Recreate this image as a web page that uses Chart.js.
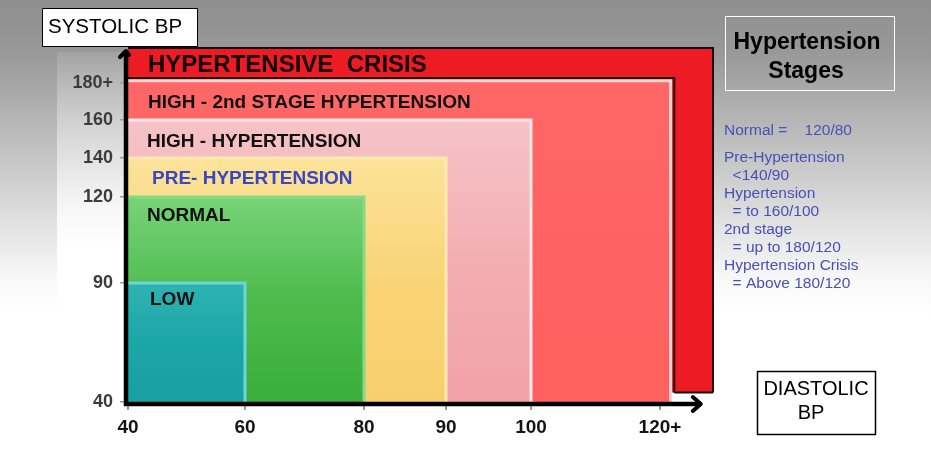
<!DOCTYPE html>
<html>
<head>
<meta charset="utf-8">
<script src="https://cdn.jsdelivr.net/npm/chart.js@4/dist/chart.umd.min.js"></script>
<style>
  html, body { margin: 0; padding: 0; background: #fff; }
  #wrap { width: 931px; height: 450px; position: relative; }
</style>
</head>
<body>
<div id="wrap"><canvas id="c" width="931" height="450"></canvas></div>
<script>
// ---------------- DATA ----------------
const xTickValues = [40, 60, 80, 90, 100, 120];
const xTickLabels = ['40', '60', '80', '90', '100', '120+'];
const yTickValues = [40, 90, 120, 140, 160, 180];
const yTickLabels = ['40', '90', '120', '140', '160', '180+'];

const zoneNames = ['LOW', 'NORMAL', 'PRE- HYPERTENSION', 'HIGH - HYPERTENSION',
                   'HIGH - 2nd STAGE HYPERTENSION', 'HYPERTENSIVE  CRISIS'];
const zoneSystolicTop = [90, 120, 140, 160, 181, 195];      // upper edge (systolic)
const zoneDiastolicRight = [60, 80, 90, 100, 122, 130];     // right edge (diastolic)
const crisisSystolicBottom = 44;
const crisisInnerDiastolic = 122.7;
const crisisInnerSystolic = 182.2;

const axisMin = 40;
const xArrowTip = 127.7;
const yArrowTip = 193.7;

const stageTitle = ['Hypertension', 'Stages'];
const stageNotes = ['Normal =    120/80', 'Pre-Hypertension', '  <140/90', 'Hypertension',
                    '  = to 160/100', '2nd stage', '  = up to 180/120', 'Hypertension Crisis',
                    '  = Above 180/120'];
const yAxisTitle = 'SYSTOLIC BP';
const xAxisTitle = ['DIASTOLIC', 'BP'];

// ---------------- STYLE ----------------
const FONT = '"Liberation Sans", Arial, sans-serif';
const zoneColors = [
  ['#2fb3b3', '#1ba6a7', '#18a0a2'],
  ['#78d378', '#4dbb4d', '#3aae3a'],
  ['#fbe39a', '#f9d477', '#f8cf6e'],
  ['#f6c3c7', '#f3aeb3', '#f1a1a7'],
  ['#ff6767', '#ff6262', '#ff6161'],
  ['#ed1c24', '#ed1c24', '#ed1c24']
];
const zoneBorders = ['#6fd6d6', '#86da86', '#fdeab0', '#fbe6e8', '#f4d3d3', '#111111'];
const zoneLabelColors = ['#111', '#111', '#3b46c2', '#111', '#111', '#140000'];
const zoneLabelFont = [19, 19, 19, 19, 19, 24];
const zoneLabelDx = [22, 19, 24, 19, 20, 20];
const zoneLabelDy = [17, 19, 21, 22, 22, 17];

// --------------- warped linear scale ---------------
class WarpScale extends Chart.LinearScale {
  static id = 'warp';
  static defaults = Chart.LinearScale.defaults;
  _frac(value) {
    const st = this.options.stops;
    if (value <= st[0][0]) return st[0][1] + (value - st[0][0]) * (st[1][1] - st[0][1]) / (st[1][0] - st[0][0]);
    for (let i = 1; i < st.length; i++) {
      if (value <= st[i][0] || i === st.length - 1) {
        const a = st[i - 1], b = st[i];
        return a[1] + (value - a[0]) * (b[1] - a[1]) / (b[0] - a[0]);
      }
    }
  }
  getPixelForValue(value) {
    const f = this._frac(value);
    return this.isHorizontal() ? this.left + f * this.width : this.bottom - f * this.height;
  }
  getValueForPixel(pixel) {
    const f = this.isHorizontal() ? (pixel - this.left) / this.width : (this.bottom - pixel) / this.height;
    const st = this.options.stops;
    for (let i = 1; i < st.length; i++) {
      if (f <= st[i][1] || i === st.length - 1) {
        const a = st[i - 1], b = st[i];
        return a[0] + (f - a[1]) * (b[0] - a[0]) / (b[1] - a[1]);
      }
    }
  }
}
Chart.register(WarpScale);
Chart.defaults.font.family = FONT;

function zoneGradient(chart, i) {
  const xs = chart.scales.x, ys = chart.scales.y;
  const cols = zoneColors[i];
  if (!xs || !ys || !chart.chartArea) return cols[1];
  const top = ys.getPixelForValue(zoneSystolicTop[i]);
  const bottom = ys.getPixelForValue(i === 5 ? crisisSystolicBottom : axisMin);
  const g = chart.ctx.createLinearGradient(0, top, 0, bottom);
  cols.forEach((c, k) => g.addColorStop(k / (cols.length - 1), c));
  return g;
}

const datasets = zoneNames.map((name, i) => ({
  label: name,
  data: [
    { x: axisMin, y: zoneSystolicTop[i] },
    { x: zoneDiastolicRight[i], y: zoneSystolicTop[i] },
    { x: zoneDiastolicRight[i], y: i === 5 ? crisisSystolicBottom : axisMin }
  ],
  fill: i === 5 ? { value: crisisSystolicBottom } : 'start',
  backgroundColor: (c) => zoneGradient(c.chart, i),
  borderColor: zoneBorders[i],
  borderWidth: i === 5 ? 2 : 3,
  pointRadius: 0,
  tension: 0,
  order: i,
  clip: false
}));
// crisis inner outline
datasets.push({
  label: 'crisis-outline',
  data: [
    { x: crisisInnerDiastolic, y: crisisSystolicBottom },
    { x: crisisInnerDiastolic, y: crisisInnerSystolic },
    { x: axisMin, y: crisisInnerSystolic }
  ],
  fill: false,
  borderColor: '#111',
  borderWidth: 2,
  pointRadius: 0,
  order: -1,
  clip: false
});
datasets.push({
  label: 'crisis-bottom',
  data: [
    { x: crisisInnerDiastolic, y: crisisSystolicBottom },
    { x: zoneDiastolicRight[5], y: crisisSystolicBottom }
  ],
  fill: false,
  borderColor: '#111',
  borderWidth: 2,
  pointRadius: 0,
  order: -1,
  clip: false
});

const bgPlugin = {
  id: 'bg',
  beforeDraw(chart) {
    const { ctx, width, height } = chart;
    ctx.save();
    const g = ctx.createLinearGradient(0, 0, 0, height);
    g.addColorStop(0, '#8f8f8f');
    g.addColorStop(0.12, '#999999');
    g.addColorStop(0.3, '#bcbcbc');
    g.addColorStop(0.48, '#dedede');
    g.addColorStop(0.62, '#f8f8f8');
    g.addColorStop(0.7, '#ffffff');
    g.addColorStop(1, '#ffffff');
    ctx.fillStyle = g;
    ctx.fillRect(0, 0, width, height);
    const g2 = ctx.createLinearGradient(0, 52, 0, 250);
    g2.addColorStop(0, 'rgba(255,255,255,0.1)');
    g2.addColorStop(0.6, 'rgba(255,255,255,0.55)');
    g2.addColorStop(1, 'rgba(255,255,255,1)');
    ctx.fillStyle = g2;
    ctx.fillRect(57, 52, 68, 398);
    ctx.restore();
  }
};

const overlayPlugin = {
  id: 'overlay',
  afterDatasetsDraw(chart) {
    const { ctx } = chart;
    const xs = chart.scales.x, ys = chart.scales.y;
    ctx.save();
    // zone labels
    zoneNames.forEach((name, i) => {
      ctx.font = 'bold ' + zoneLabelFont[i] + 'px ' + FONT;
      ctx.fillStyle = zoneLabelColors[i];
      ctx.textAlign = 'left';
      ctx.textBaseline = 'middle';
      ctx.fillText(name, xs.getPixelForValue(axisMin) + zoneLabelDx[i],
                   ys.getPixelForValue(zoneSystolicTop[i]) + zoneLabelDy[i]);
    });
    // axes with arrows
    const x0 = xs.getPixelForValue(axisMin) - 2;
    const y0 = ys.getPixelForValue(axisMin) + 2;
    const xt = xs.getPixelForValue(xArrowTip);
    const yt = ys.getPixelForValue(yArrowTip);
    ctx.strokeStyle = '#000';
    ctx.lineWidth = 4.5;
    ctx.lineCap = 'butt';
    ctx.beginPath();
    ctx.moveTo(x0 - 2, y0);
    ctx.lineTo(xt - 1, y0);
    ctx.moveTo(x0, y0 + 2);
    ctx.lineTo(x0, yt + 1);
    ctx.stroke();
    ctx.lineWidth = 4;
    ctx.lineJoin = 'round';
    ctx.lineCap = 'round';
    ctx.beginPath();
    ctx.moveTo(xt - 8, y0 - 7);
    ctx.lineTo(xt, y0);
    ctx.lineTo(xt - 8, y0 + 7);
    ctx.moveTo(x0 - 6, yt + 6);
    ctx.lineTo(x0, yt);
    ctx.lineTo(x0 + 3, yt + 4);
    ctx.stroke();

    // SYSTOLIC BP box
    ctx.lineWidth = 1;
    ctx.lineCap = 'butt';
    ctx.fillStyle = '#fff';
    ctx.fillRect(42, 8, 155, 38);
    ctx.strokeStyle = '#000';
    ctx.strokeRect(42.5, 8.5, 155, 38);
    ctx.fillStyle = '#000';
    ctx.font = '20.5px ' + FONT;
    ctx.textAlign = 'left';
    ctx.textBaseline = 'middle';
    ctx.fillText(yAxisTitle, 48, 27);

    // DIASTOLIC BP box
    ctx.fillStyle = '#fff';
    ctx.fillRect(757, 371, 118, 63);
    ctx.lineWidth = 1.5;
    ctx.strokeRect(757.5, 371.5, 118, 63);
    ctx.fillStyle = '#000';
    ctx.font = '20px ' + FONT;
    ctx.textAlign = 'center';
    ctx.fillText(xAxisTitle[0], 816, 389);
    ctx.fillText(xAxisTitle[1], 811, 413);

    // Hypertension Stages box
    ctx.lineWidth = 1;
    ctx.strokeStyle = '#ffffff';
    ctx.strokeRect(725.5, 16.5, 169, 74);
    ctx.fillStyle = '#000';
    ctx.font = 'bold 23px ' + FONT;
    ctx.fillText(stageTitle[0], 807, 43);
    ctx.fillText(stageTitle[1], 806, 72);

    // notes
    ctx.font = '15.5px ' + FONT;
    ctx.fillStyle = '#4a4fb8';
    ctx.textAlign = 'left';
    stageNotes.forEach((t, k) => {
      const y = k === 0 ? 131 : 158 + (k - 1) * 18;
      ctx.fillText(t, 724, y);
    });
    ctx.restore();
  }
};

new Chart(document.getElementById('c'), {
  type: 'line',
  data: { datasets },
  options: {
    responsive: false,
    animation: false,
    events: [],
    layout: { padding: { left: 0, top: 48, right: 218, bottom: 0 } },
    plugins: { legend: { display: false }, tooltip: { enabled: false } },
    scales: {
      x: {
        type: 'warp',
        min: axisMin, max: 130,
        stops: [[40, 0], [60, 0.2], [80, 0.4034], [90, 0.5436], [100, 0.6889], [120, 0.9094], [130, 1]],
        afterBuildTicks: (s) => { s.ticks = xTickValues.map(v => ({ value: v })); },
        afterFit: (s) => { s.height = 48; },
        grid: { drawOnChartArea: false, color: '#9a9a9a', tickLength: 8, lineWidth: 2 },
        border: { display: false },
        ticks: {
          autoSkip: false, maxRotation: 0, padding: 6,
          color: '#141414',
          font: { size: 19, weight: 'bold' },
          callback: (v) => xTickLabels[xTickValues.indexOf(v)]
        }
      },
      y: {
        type: 'warp',
        min: axisMin, max: 195,
        stops: [[40, 0], [90, 0.3362], [120, 0.5791], [140, 0.6893], [160, 0.7966], [180, 0.9011], [195, 1]],
        afterBuildTicks: (s) => { s.ticks = yTickValues.map(v => ({ value: v })); },
        afterFit: (s) => { s.width = 128; },
        grid: { drawOnChartArea: false, color: '#9a9a9a', tickLength: 8, lineWidth: 1.5 },
        border: { display: false },
        ticks: {
          autoSkip: false, padding: 7,
          color: '#3c3c3c',
          font: { size: 18, weight: 'bold' },
          callback: (v) => yTickLabels[yTickValues.indexOf(v)]
        }
      }
    }
  },
  plugins: [bgPlugin, overlayPlugin]
});
</script>
</body>
</html>
